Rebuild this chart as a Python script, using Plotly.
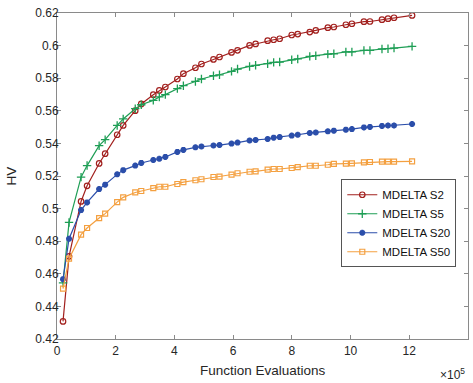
import plotly.graph_objects as go

# Function evaluations (x)
evals = [20500, 41000, 82000, 102500, 143500, 164000, 205000, 225500, 266500, 287000,
         328000, 348500, 369000, 410000, 430500, 471500, 492000, 533000, 553500, 594500,
         615000, 656000, 676500, 717500, 738000, 758500, 799500, 820000, 861000, 881500,
         922500, 943000, 984000, 1004500, 1045500, 1066000, 1107000, 1127500, 1148000, 1209500]

s2 = [0.4308, 0.4707, 0.5044, 0.5140, 0.5277, 0.5337, 0.5453, 0.5510, 0.5601, 0.5642,
      0.5699, 0.5725, 0.5746, 0.5795, 0.5828, 0.5864, 0.5887, 0.5915, 0.5930, 0.5958,
      0.5971, 0.6001, 0.6010, 0.6030, 0.6036, 0.6042, 0.6065, 0.6071, 0.6083, 0.6093,
      0.6110, 0.6114, 0.6128, 0.6134, 0.6147, 0.6148, 0.6159, 0.6165, 0.6171, 0.6185]

s5 = [0.4544, 0.4915, 0.5193, 0.5264, 0.5386, 0.5423, 0.5510, 0.5550, 0.5613, 0.5637,
      0.5664, 0.5685, 0.5699, 0.5736, 0.5754, 0.5780, 0.5795, 0.5815, 0.5821, 0.5842,
      0.5856, 0.5872, 0.5879, 0.5889, 0.5897, 0.5899, 0.5913, 0.5918, 0.5934, 0.5938,
      0.5948, 0.5950, 0.5961, 0.5961, 0.5971, 0.5971, 0.5979, 0.5981, 0.5985, 0.5995]

s20 = [0.4567, 0.4815, 0.4991, 0.5038, 0.5120, 0.5147, 0.5210, 0.5236, 0.5264, 0.5280,
       0.5298, 0.5306, 0.5317, 0.5348, 0.5360, 0.5376, 0.5381, 0.5387, 0.5390, 0.5399,
       0.5405, 0.5418, 0.5421, 0.5427, 0.5435, 0.5439, 0.5448, 0.5453, 0.5464, 0.5467,
       0.5474, 0.5478, 0.5484, 0.5488, 0.5498, 0.5501, 0.5507, 0.5510, 0.5510, 0.5519]

s50 = [0.4509, 0.4693, 0.4840, 0.4881, 0.4942, 0.4969, 0.5040, 0.5069, 0.5099, 0.5108,
       0.5126, 0.5134, 0.5134, 0.5151, 0.5162, 0.5174, 0.5180, 0.5194, 0.5196, 0.5209,
       0.5217, 0.5226, 0.5228, 0.5239, 0.5243, 0.5243, 0.5249, 0.5255, 0.5263, 0.5263,
       0.5269, 0.5274, 0.5276, 0.5278, 0.5283, 0.5286, 0.5288, 0.5288, 0.5288, 0.5290]

series_names = ["MDELTA S2", "MDELTA S5", "MDELTA S20", "MDELTA S50"]

x_tickvals = [0, 200000, 400000, 600000, 800000, 1000000, 1200000, 1400000]
x_ticktext = ["0", "2", "4", "6", "8", "10", "12", "14"]
y_tickvals = [0.42, 0.44, 0.46, 0.48, 0.50, 0.52, 0.54, 0.56, 0.58, 0.60, 0.62]
y_ticktext = ["0.42", "0.44", "0.46", "0.48", "0.5", "0.52", "0.54", "0.56", "0.58", "0.6", "0.62"]

styles = [
    dict(color="#A2201E", symbol="circle-open", size=5.5, mlw=1.2),
    dict(color="#1E9E55", symbol="cross-thin-open", size=6, mlw=1.3),
    dict(color="#2B4EAA", symbol="asterisk-open", size=5, mlw=2.0),
    dict(color="#F4A040", symbol="square-open", size=5, mlw=1.2),
]

fig = go.Figure()
for name, ys, st in zip(series_names, [s2, s5, s20, s50], styles):
    fig.add_trace(go.Scatter(
        x=evals, y=ys, name=name, mode="lines+markers",
        line=dict(color=st["color"], width=1.2),
        marker=dict(symbol=st["symbol"], size=st["size"], color=st["color"],
                    line=dict(color=st["color"], width=st["mlw"])),
    ))

font_family = "Liberation Sans, Arial, sans-serif"
axis_common = dict(
    showline=True, linecolor="#8a8a8a", linewidth=1, mirror="ticks",
    ticks="inside", ticklen=4, tickcolor="#8a8a8a", tickwidth=1,
    showgrid=False, zeroline=False, automargin=False,
    tickfont=dict(family=font_family, size=12, color="#262626"),
)

fig.update_layout(
    width=473, height=383,
    margin=dict(l=57, r=5, t=13, b=44, autoexpand=False),
    paper_bgcolor="white", plot_bgcolor="white",
    font=dict(family=font_family, color="#262626"),
    xaxis=dict(range=[0, 1400000], tickmode="array", tickvals=x_tickvals, ticktext=x_ticktext,
               ticklabelstandoff=1, **axis_common),
    yaxis=dict(range=[0.42, 0.62], tickmode="array", tickvals=y_tickvals, ticktext=y_ticktext,
               ticklabelstandoff=-5, **axis_common),
    legend=dict(x=0.9715, y=0.49, xanchor="right", yanchor="top",
                bgcolor="white", bordercolor="#555555", borderwidth=1,
                font=dict(family=font_family, size=11.5, color="#111111"),
                tracegroupgap=0, itemwidth=30),
    showlegend=True,
)

fig.add_annotation(
    text="Function Evaluations", xref="paper", yref="paper", x=0.5, y=-0.096,
    xanchor="center", yanchor="middle", showarrow=False,
    font=dict(family=font_family, size=13.5, color="#262626"),
)
fig.add_annotation(
    text="HV", xref="paper", yref="paper", x=-0.111, y=0.5, textangle=-90,
    xanchor="center", yanchor="middle", showarrow=False,
    font=dict(family=font_family, size=13.5, color="#262626"),
)
fig.add_annotation(
    text="×10<sup>5</sup>", xref="paper", yref="paper", x=0.998, y=-0.108,
    xanchor="right", yanchor="middle", showarrow=False,
    font=dict(family=font_family, size=12, color="#262626"),
)

fig.write_html("out.html", config={"displayModeBar": False},
               post_script="document.body.style.margin='0px';document.body.style.padding='0px';")
